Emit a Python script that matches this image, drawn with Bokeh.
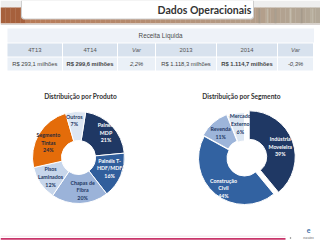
import math
from bokeh.plotting import figure
from bokeh.models import Range1d
from bokeh.core.properties import value
from bokeh.embed import file_html
from bokeh.resources import INLINE

# ---------------- data ----------------
page_title = "Dados Operacionais"
table_title = "Receita Líquida"
table_headers = ["4T13", "4T14", "Var", "2013", "2014", "Var"]
table_values = ["R$ 293,1 milhões", "R$ 299,6 milhões", "2,2%",
                "R$ 1.118,3 milhões", "R$ 1.114,7 milhões", "-0,3%"]

product_title = "Distribuição por Produto"
product_names = ["Painéis\nMDP", "Painéis T-\nHDF/MDF", "Chapas de\nFibra",
                 "Pisos\nLaminados", "Segmento\nTintas", "Outros"]
product_shares = [21, 16, 20, 12, 24, 7]

segment_title = "Distribuição por Segmento"
segment_names = ["Indústria\nMoveleira", "Construção\nCivil", "Revenda", "Mercado\nExterno"]
segment_shares = [39, 44, 11, 6]

# ---------------- styles ----------------
product_colors = ["#1f3864", "#305e9c", "#9bb3d9", "#c7d6eb", "#e46c0a", "#dde6f2"]
product_text = ["white", "white", "#1f3864", "#1f3864", "#2a2a3a", "#1f3864"]
product_nudge = [(2, -1), (-1, -3), (3, -2), (1, 0), (0, 3), (-2, -2)]
segment_colors = ["#1f3864", "#3262a1", "#9db5da", "#dce6f2"]
segment_text = ["white", "white", "#1f3864", "#1f3864"]
segment_explode = [5, 0, 1.5, 0]
segment_nudge = [(0, 1), (0, 4.5), (-1, 0), (2, -2)]

H = 240


def Y(py):
    return H - py


p = figure(width=320, height=240, output_backend="svg", toolbar_location=None,
           x_range=Range1d(0, 320), y_range=Range1d(0, 240),
           min_border=0, x_axis_type=None, y_axis_type=None)
p.grid.visible = False
p.outline_line_color = None
p.background_fill_color = "white"
p.border_fill_color = "white"

# ---------------- header ----------------
p.quad(left=0, right=320, top=Y(0), bottom=Y(8), fill_color="#eeeeee", line_color=None)
n = 64
for i in range(n):
    x0 = 320 * i / n
    x1 = 320 * (i + 1) / n + 0.3
    t = i / (n - 1)
    if x0 < 21:
        c = (166, 96, 60)
    else:
        r = int(184 + (178 - 184) * t)
        g = int(118 + (168 - 118) * t)
        b = int(80 + (152 - 80) * t)
        c = (r, g, b)
    p.quad(left=x0, right=x1, top=Y(7), bottom=Y(23), fill_color="#%02x%02x%02x" % c, line_color=None)
for xs, col in [(258, "#9e9586"), (266, "#c8c0b2"), (274, "#a39a8b"), (289, "#cbc3b5"), (300, "#9f9688"), (311, "#c5bdaf")]:
    p.quad(left=xs, right=xs + 2, top=Y(8), bottom=Y(23), fill_color=col, line_color=None, fill_alpha=0.7)
p.quad(left=0, right=320, top=Y(23), bottom=Y(24.5), fill_color="#d9d4d0", line_color=None)


def rounded_tab(x0, x1, y0, y1, r):
    xs, ys = [x0, x0], [Y(y0), Y(y1 - r)]
    for k in range(9):
        a = math.pi + k * (math.pi / 2) / 8
        xs.append(x0 + r + r * math.cos(a))
        ys.append(Y(y1 - r - r * math.sin(a)))
    for k in range(9):
        a = 1.5 * math.pi + k * (math.pi / 2) / 8
        xs.append(x1 - r + r * math.cos(a))
        ys.append(Y(y1 - r - r * math.sin(a)))
    xs += [x1]
    ys += [Y(y0)]
    return xs, ys


sx, sy = rounded_tab(20.5, 253.5, 0, 19, 3)
p.patch(sx, sy, fill_color="#cfcfcf", line_color=None)
tx, ty = rounded_tab(21.5, 252.5, 0, 18, 3)
p.patch(tx, ty, fill_color="white", line_color=None)
p.text(x=[204], y=[Y(9.5)], text=[page_title], text_font=value("Lato"), text_font_style="bold",
       text_font_size="10.5px", text_color="#333333", text_align="center", text_baseline="middle")

# ---------------- table ----------------
edges = [7, 62.5, 117.5, 155.5, 216.5, 277.5, 313.5]
p.quad(left=edges[0], right=edges[-1], top=Y(28), bottom=Y(42), fill_color="#eef2f8", line_color=None)
p.text(x=[160], y=[Y(35)], text=[table_title], text_font=value("Liberation Sans"),
       text_font_size="6.3px", text_color="#4a4a4a", text_align="center", text_baseline="middle")
for i in range(6):
    l, r = edges[i], edges[i + 1] - 1
    p.quad(left=l, right=r, top=Y(43), bottom=Y(56), fill_color="#d8e2ee", line_color=None)
    p.quad(left=l, right=r, top=Y(57), bottom=Y(70), fill_color="#eaf0f7", line_color=None)
    cx = (l + r) / 2
    italic = table_headers[i] == "Var"
    p.text(x=[cx], y=[Y(49.5)], text=[table_headers[i]], text_font=value("Liberation Sans"),
           text_font_style="italic" if italic else "normal",
           text_font_size="5.8px", text_color="#555555", text_align="center", text_baseline="middle")
    bold = i in (1, 4)
    style = "italic" if italic else ("bold" if bold else "normal")
    p.text(x=[cx], y=[Y(63.5)], text=[table_values[i]], text_font=value("Liberation Sans"),
           text_font_style=style,
           text_font_size="5.8px", text_color="#444444", text_align="center", text_baseline="middle")


# ---------------- donuts ----------------
def donut(cx, cy, names, shares, colors, tcolors, explode, nudge, start_deg, r_in, r_out, r_lab):
    total = float(sum(shares))
    th = start_deg
    labels = []
    for i, s in enumerate(shares):
        t1 = th
        t2 = th + 360.0 * s / total
        th = t2
        tm = math.radians((t1 + t2) / 2)
        e = explode[i]
        x0 = cx + e * math.sin(tm)
        y0 = Y(cy) + e * math.cos(tm)
        p.annular_wedge(x=[x0], y=[y0], inner_radius=r_in, outer_radius=r_out,
                        start_angle=math.radians(90 - t2), end_angle=math.radians(90 - t1),
                        direction="anticlock", fill_color=colors[i],
                        line_color="white", line_width=1)
        lx = cx + (r_lab + e) * math.sin(tm) + nudge[i][0]
        ly = Y(cy) + (r_lab + e) * math.cos(tm) - nudge[i][1]
        labels.append((lx, ly, "%s\n%d%%" % (names[i], s), tcolors[i]))
    for lx, ly, txt, col in labels:
        p.text(x=[lx], y=[ly], text=[txt], text_font=value("Lato"),
               text_font_style="bold", text_font_size="5.3px", text_color=col,
               text_align="center", text_baseline="middle", text_line_height=1.3)


donut(78, 157, product_names, product_shares, product_colors, product_text,
      [0] * len(product_shares), product_nudge, 9, 17, 46, 35)
donut(244, 158, segment_names, segment_shares, segment_colors, segment_text,
      segment_explode, segment_nudge, 0, 17.5, 46, 33)

p.text(x=[80, 241], y=[Y(95), Y(95)], text=[product_title, segment_title], text_font=value("Lato"),
       text_font_style="bold", text_font_size="6.6px", text_color="#333333",
       text_align="center", text_baseline="middle")

# ---------------- footer ----------------
p.line(x=[0, 285], y=[Y(235.7), Y(235.7)], line_color="#f2dbe3", line_width=0.8)
p.line(x=[0, 285], y=[Y(238.4)] * 2, line_color="#c9356a", line_width=1.6)
p.scatter(x=[290], y=[Y(237.6)], size=1.5, fill_color="#777777", line_color=None)
p.text(x=[308], y=[Y(229)], text=["e"], text_font=value("Lato"), text_font_style="bold",
       text_font_size="7px", text_color="#3d6fa8", text_align="center", text_baseline="middle")
p.text(x=[308], y=[Y(237.6)], text=["eucatex"], text_font=value("Liberation Sans"),
       text_font_size="3px", text_color="#666666", text_align="center", text_baseline="middle")

open("out.html", "w").write(file_html(p, INLINE))
